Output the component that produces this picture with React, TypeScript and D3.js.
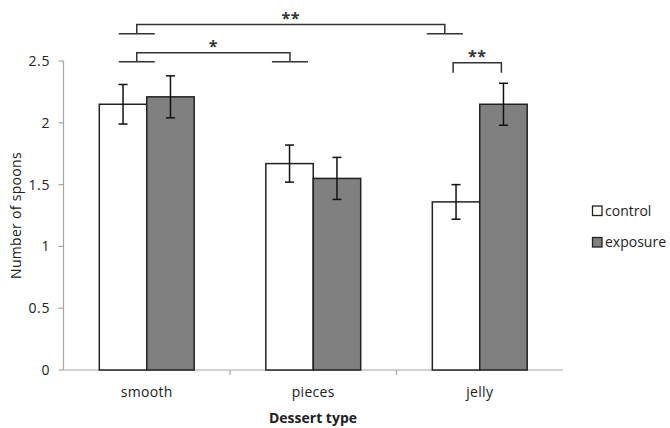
import React, { useRef, useEffect } from 'react';
import * as d3 from 'd3';

const categories = ['smooth', 'pieces', 'jelly'];
const series = ['control', 'exposure'];
const seriesColors = ['#ffffff', '#808080'];
const means = [
  [2.15, 2.21],
  [1.67, 1.55],
  [1.36, 2.15],
];
const errors = [
  [0.16, 0.17],
  [0.15, 0.17],
  [0.14, 0.17],
];
const yTicks = [0, 0.5, 1, 1.5, 2, 2.5];

// significance brackets: legs given as category + position inside band (0..1), heights in data units
const brackets = [
  { from: ['smooth', 0.44], to: ['jelly', 0.29], top: 2.795, foot: 2.72, label: '**', feet: true },
  { from: ['smooth', 0.44], to: ['pieces', 0.36], top: 2.567, foot: 2.494, label: '*', feet: true },
  { from: ['jelly', 0.34], to: ['jelly', 0.63], top: 2.486, foot: 2.405, label: '**', feet: false },
];

const FONT = "'Open Sans', sans-serif";

const App = () => {
  const svgRef = useRef(null);

  useEffect(() => {
    const svg = d3.select(svgRef.current);
    svg.selectAll('*').remove();

    const left = 63.5, right = 563, top = 61, bottom = 370;

    const x = d3.scaleBand().domain(categories).range([left, right]).padding(0);
    const xs = d3.scaleBand().domain(series).range([0, x.bandwidth()]).paddingInner(0).paddingOuter(0.755);
    const y = d3.scaleLinear().domain([0, 2.5]).range([bottom, top]);

    const axisColor = '#a6a6a6';

    // y axis
    svg.append('line').attr('x1', left).attr('x2', left).attr('y1', y(0)).attr('y2', y(2.5))
      .attr('stroke', axisColor).attr('stroke-width', 1.2);
    yTicks.forEach(t => {
      svg.append('line').attr('x1', left - 5).attr('x2', left).attr('y1', y(t)).attr('y2', y(t))
        .attr('stroke', axisColor).attr('stroke-width', 1.2);
      svg.append('text').attr('x', 50).attr('y', y(t)).attr('dy', '0.35em')
        .attr('text-anchor', 'end').attr('font-family', FONT).attr('font-size', 14)
        .attr('letter-spacing', 0.6).attr('fill', '#222').text(String(t));
    });

    // x axis
    svg.append('line').attr('x1', left).attr('x2', right).attr('y1', bottom).attr('y2', bottom)
      .attr('stroke', axisColor).attr('stroke-width', 1.2);
    categories.forEach((c, i) => {
      if (i > 0) {
        svg.append('line').attr('x1', x(c)).attr('x2', x(c)).attr('y1', bottom).attr('y2', bottom + 5)
          .attr('stroke', axisColor).attr('stroke-width', 1.2);
      }
      svg.append('text').attr('x', x(c) + x.bandwidth() / 2).attr('y', 397)
        .attr('text-anchor', 'middle').attr('font-family', FONT).attr('font-size', 14)
        .attr('letter-spacing', 0.3).attr('fill', '#222').text(c);
    });

    // bars
    categories.forEach((c, i) => {
      series.forEach((s, j) => {
        const v = means[i][j];
        svg.append('rect')
          .attr('x', x(c) + xs(s)).attr('y', y(v))
          .attr('width', xs.bandwidth()).attr('height', y(0) - y(v))
          .attr('fill', seriesColors[j]).attr('stroke', '#222').attr('stroke-width', 1.5);
      });
    });

    // error bars
    categories.forEach((c, i) => {
      series.forEach((s, j) => {
        const cx = x(c) + xs(s) + xs.bandwidth() / 2;
        const hi = y(means[i][j] + errors[i][j]);
        const lo = y(means[i][j] - errors[i][j]);
        const g = svg.append('g').attr('stroke', '#111').attr('stroke-width', 1.5);
        g.append('line').attr('x1', cx).attr('x2', cx).attr('y1', hi).attr('y2', lo);
        g.append('line').attr('x1', cx - 4.5).attr('x2', cx + 4.5).attr('y1', hi).attr('y2', hi);
        g.append('line').attr('x1', cx - 4.5).attr('x2', cx + 4.5).attr('y1', lo).attr('y2', lo);
      });
    });

    // significance brackets
    brackets.forEach(b => {
      const x1 = x(b.from[0]) + x.bandwidth() * b.from[1];
      const x2 = x(b.to[0]) + x.bandwidth() * b.to[1];
      const yt = y(b.top), yf = y(b.foot);
      const g = svg.append('g').attr('stroke', '#333').attr('stroke-width', 1.5).attr('fill', 'none');
      g.append('path').attr('d', `M${x1},${yf}V${yt}H${x2}V${yf}`);
      if (b.feet) {
        g.append('line').attr('x1', x1 - 18).attr('x2', x1 + 18).attr('y1', yf).attr('y2', yf);
        g.append('line').attr('x1', x2 - 18).attr('x2', x2 + 18).attr('y1', yf).attr('y2', yf);
      }
      svg.append('text').attr('x', (x1 + x2) / 2).attr('y', yt - 10 + 9)
        .attr('text-anchor', 'middle').attr('font-family', FONT).attr('font-size', 16)
        .attr('font-weight', 'bold').attr('fill', '#333').attr('letter-spacing', 0.5).text(b.label);
    });

    // axis titles
    svg.append('text').attr('transform', `translate(21,${(top + bottom) / 2}) rotate(-90)`)
      .attr('text-anchor', 'middle').attr('font-family', FONT).attr('font-size', 14)
      .attr('letter-spacing', 0.3).attr('fill', '#222').text('Number of spoons');
    svg.append('text').attr('x', 313).attr('y', 423)
      .attr('text-anchor', 'middle').attr('font-family', FONT).attr('font-size', 14)
      .attr('font-weight', 'bold').attr('fill', '#222').text('Dessert type');

    // legend
    series.forEach((s, j) => {
      const ly = 206 + j * 31.5;
      svg.append('rect').attr('x', 592.5).attr('y', ly).attr('width', 9.5).attr('height', 9.5)
        .attr('fill', seriesColors[j]).attr('stroke', '#222').attr('stroke-width', 1.3);
      svg.append('text').attr('x', 605).attr('y', ly + 5).attr('dy', '0.35em')
        .attr('font-family', FONT).attr('font-size', 14).attr('fill', '#222').text(s);
    });
  }, []);

  return (
    <svg ref={svgRef} width={670} height={428}
      style={{ position: 'absolute', left: 0, top: 0, background: '#fff' }} />
  );
};

export default App;
